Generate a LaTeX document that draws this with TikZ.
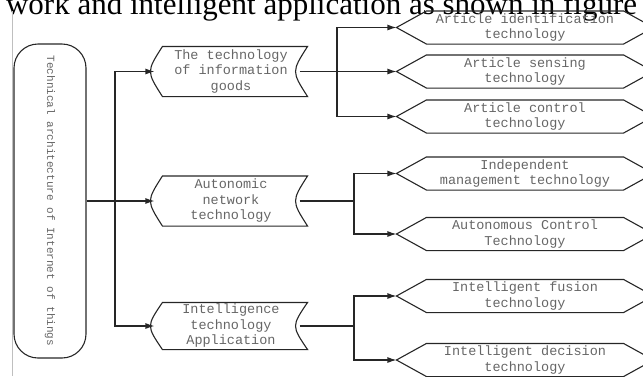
\documentclass[tikz,border=0pt]{standalone}
\usepackage{fontspec}
\setmainfont{Liberation Serif}
\setmonofont{Liberation Mono}
\usetikzlibrary{arrows.meta}
\tikzset{% styles for the boxes and the links
  box/.style={inner sep=0pt, align=center, text=black!60,
    font=\ttfamily\fontsize{13.5}{15.5}\selectfont},
  store/.style={box, minimum width=152pt, minimum height=49pt},
  hexa/.style={box, minimum width=256pt, minimum height=32pt},
  link/.style={-{Latex[length=9pt,width=6pt]}}
}

\begin{document}
\begin{tikzpicture}[x=1pt, y=-1pt, line width=1.1pt, black!85]
\useasboundingbox (0,0) rectangle (643,376);
\clip (0,0) rectangle (643,376);

% text of the page above and margin line
\node [anchor=base east, black, font=\fontsize{31}{36}\selectfont] (cap) at (641,14)
  {work and intelligent application as shown in figure};
\draw [black!25, line width=0.8pt] (12,11) -- (12,376);

% root box
\node [box, draw, rounded corners=24pt, minimum width=72pt, minimum height=314pt,
  font=\ttfamily\fontsize{11}{13}\selectfont] (root) at (50,201)
  {\rotatebox{-90}{Technical architecture of Internet of things}};

% first level
\node [store] (tech)  at (231,71.5) {The technology\\of information\\goods};
\node [store] (auto)  at (231,201)  {Autonomic\\network\\technology};
\node [store, minimum height=46pt] (intel) at (231,326) {Intelligence\\technology\\Application};
\foreach \n in {tech,auto,intel}
  \draw ([xshift=8pt]\n.north west) -- (\n.north east)
    .. controls ([xshift=-16pt]\n.east) .. (\n.south east)
    -- ([xshift=8pt]\n.south west) .. controls ([xshift=-8pt]\n.west) .. cycle;

% second level
\node [hexa] (art1) at (525,27.5) {Article identification\\technology};
\node [hexa] (art2) at (525,71.5) {Article sensing\\technology};
\node [hexa] (art3) at (525,116.5) {Article control\\technology};
\node [hexa] (ind)  at (525,173.5) {Independent\\management technology};
\node [hexa] (aut)  at (525,234) {Autonomous Control\\Technology};
\node [hexa] (fus)  at (525,296) {Intelligent fusion\\technology};
\node [hexa] (dec)  at (525,360) {Intelligent decision\\technology};
\foreach \n in {art1,art2,art3,ind,aut,fus,dec}
  \draw (\n.west) -- ([xshift=30pt]\n.north west) -- ([xshift=-30pt]\n.north east)
    -- (\n.east) -- ([xshift=-30pt]\n.south east) -- ([xshift=30pt]\n.south west) -- cycle;

% links
\coordinate (j0) at (115,201);
\coordinate (j1) at (337,71.5);
\coordinate (j2) at (354,201);
\coordinate (j3) at (354,326);
\draw [link] (root.east) -- (auto.west);
\draw [link] (j0) |- (tech.west);
\draw [link] (j0) |- (intel.west);
\draw [link] ([xshift=-8pt]tech.east) -- (art2.west);
\draw [link] (j1) |- (art1.west);
\draw [link] (j1) |- (art3.west);
\draw ([xshift=-8pt]auto.east) -- (j2);
\draw [link] (j2) |- (ind.west);
\draw [link] (j2) |- (aut.west);
\draw ([xshift=-8pt]intel.east) -- (j3);
\draw [link] (j3) |- (fus.west);
\draw [link] (j3) |- (dec.west);
\end{tikzpicture}
\end{document}
